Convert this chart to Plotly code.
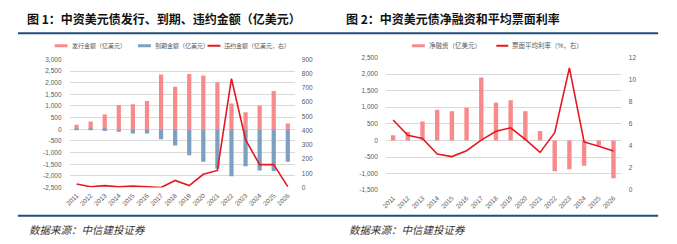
import plotly.graph_objects as go

W, H = 677, 244

years = [str(y) for y in range(2011, 2027)]
issuance = [200, 330, 640, 1040, 1070, 1210, 2350, 1830, 2375, 2305, 2015, 1110, 735, 1015, 1640, 250]
maturity = [-30, -30, -70, -100, -180, -180, -430, -695, -1110, -1390, -1695, -2015, -1585, -1765, -1790, -1390]
defaults = [25, 6, 14, 5, 10, 5, 0, 50, 14, 93, 120, 764, 336, 161, 161, 7]

net_fin = [156, 254, 566, 927, 878, 985, 1893, 1132, 1210, 878, 283, -927, -868, -761, -150, -1137]
coupon = [6.35, 4.97, 4.68, 3.27, 3.04, 3.57, 4.53, 5.32, 5.64, 4.59, 3.42, 5.2, 11.05, 4.36, 3.98, 3.54]

left1_ticks = list(range(-2500, 3001, 500))
right1_ticks = list(range(0, 901, 100))
left2_ticks = list(range(-1500, 2501, 500))
right2_ticks = list(range(0, 13, 2))

PINK = "#f98a8c"
BLUE = "#7ba0c2"
RED = "#e3191f"
NAVY = "#1f4e79"
GRID = "#d9d9d9"
TICK = "#595959"
FONT = "Liberation Sans, Noto Sans CJK SC, sans-serif"
CJK = "Noto Sans CJK SC, sans-serif"


def fmt(v):
    s = f"{abs(v):,}"
    return ("-" + s) if v < 0 else s


fig = go.Figure()
fig.add_trace(go.Bar(x=years, y=issuance, marker_color=PINK, width=0.3,
                     xaxis="x", yaxis="y", showlegend=False, marker_line_width=0))
fig.add_trace(go.Bar(x=years, y=maturity, marker_color=BLUE, width=0.3,
                     xaxis="x", yaxis="y", showlegend=False, marker_line_width=0))
fig.add_trace(go.Scatter(x=years, y=defaults, mode="lines", line=dict(color=RED, width=1.6),
                         xaxis="x", yaxis="y2", showlegend=False))
fig.add_trace(go.Bar(x=years, y=net_fin, marker_color=PINK, width=0.3,
                     xaxis="x2", yaxis="y3", showlegend=False, marker_line_width=0))
fig.add_trace(go.Scatter(x=years, y=coupon, mode="lines", line=dict(color=RED, width=1.6),
                         xaxis="x2", yaxis="y4", showlegend=False))

tickfont = dict(family=FONT, size=6.5, color=TICK)

def px(x):
    return x / W

def py(y):
    return 1 - y / H

fig.update_layout(
    width=W, height=H, margin=dict(l=0, r=0, t=0, b=0),
    paper_bgcolor="white", plot_bgcolor="white",
    barmode="relative",
    xaxis=dict(domain=[px(65), px(292)], anchor="y", type="category",
               tickangle=-45, tickfont=tickfont, showgrid=False, showline=False,
               ticks="", ticklabelstandoff=2),
    yaxis=dict(domain=[py(189), py(57)], range=[-2500, 3000], tickvals=left1_ticks,
               ticktext=[fmt(v) for v in left1_ticks], tickfont=tickfont,
               gridcolor=GRID, gridwidth=1, zeroline=False, showline=False,
               ticks="", ticklabelstandoff=7),
    yaxis2=dict(overlaying="y", side="right", anchor="x", range=[0, 900],
                tickvals=right1_ticks, ticktext=[fmt(v) for v in right1_ticks],
                tickfont=tickfont, showgrid=False, zeroline=False, showline=False,
                ticks="", ticklabelstandoff=6),
    xaxis2=dict(domain=[px(383.6), px(620.4)], anchor="y3", type="category",
                tickangle=-45, tickfont=tickfont, showgrid=False, showline=False,
                ticks="", ticklabelstandoff=2),
    yaxis3=dict(domain=[py(191.7), py(55)], anchor="x2", range=[-1500, 2500],
                tickvals=left2_ticks, ticktext=[fmt(v) for v in left2_ticks],
                tickfont=tickfont, gridcolor=GRID, gridwidth=1, zeroline=False,
                showline=False, ticks="", ticklabelstandoff=7),
    yaxis4=dict(overlaying="y3", side="right", anchor="x2", range=[0, 12],
                tickvals=right2_ticks, ticktext=[str(v) for v in right2_ticks],
                tickfont=tickfont, showgrid=False, zeroline=False, showline=False,
                ticks="", ticklabelstandoff=7),
)

shapes = []
annotations = []

# title rules and bottom rules
for y in (30, 218):
    shapes.append(dict(type="line", xref="paper", yref="paper",
                       x0=px(13), x1=px(658), y0=py(y), y1=py(y),
                       line=dict(color=NAVY, width=2)))

# titles
annotations.append(dict(text="<b>图 1：中资美元债发行、到期、违约金额（亿美元）</b>", x=px(20), y=py(15),
                        xref="paper", yref="paper", xanchor="left", yanchor="middle",
                        showarrow=False, font=dict(family=CJK, size=12, color="#111111")))
annotations.append(dict(text="<b>图 2：中资美元债净融资和平均票面利率</b>", x=px(342), y=py(15),
                        xref="paper", yref="paper", xanchor="left", yanchor="middle",
                        showarrow=False, font=dict(family=CJK, size=12, color="#111111")))

# sources
for x in (22, 345):
    annotations.append(dict(text="数据来源：中信建投证券", x=px(x), y=py(232),
                            xref="paper", yref="paper", xanchor="left", yanchor="middle",
                            showarrow=False,
                            font=dict(family=CJK, size=10.5, color="#333333", style="italic")))

# legends
legend_items = [
    (50, 63, PINK, 3, "发行金额（亿美元）", 6),
    (134, 147, BLUE, 3, "到期金额（亿美元）", 6),
    (204, 217, RED, 2, "违约金额（亿美元，右）", 6),
    (410, 423, PINK, 3, "净融资（亿美元）", 6.5),
    (495, 507, RED, 2, "票面平均利率（%，右）", 6.5),
]
for x0, x1, c, w, t, fs in legend_items:
    shapes.append(dict(type="line", xref="paper", yref="paper",
                       x0=px(x0), x1=px(x1), y0=py(43), y1=py(43),
                       line=dict(color=c, width=w)))
    annotations.append(dict(text=t, x=px(x1 + 2), y=py(43), xref="paper", yref="paper",
                            xanchor="left", yanchor="middle", showarrow=False,
                            font=dict(family=FONT, size=fs, color=TICK)))

fig.update_layout(shapes=shapes, annotations=annotations)
fig.write_html("out.html")
